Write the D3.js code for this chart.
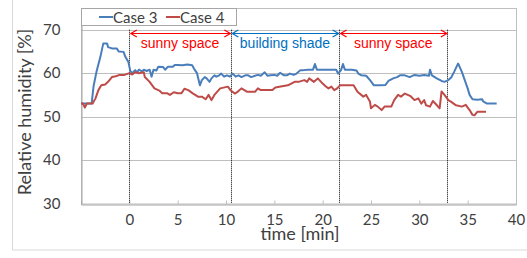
<!DOCTYPE html>
<html lang="en">
<head>
    <meta charset="UTF-8">
    <title>Relative humidity</title>
    <style>
        body { margin: 0; background: #fff; }
        svg { display: block; }
        .tick-label { font-family: Lato, "Open Sans", sans-serif; font-size: 15px; fill: #404040; }
        .axis-title { font-family: Lato, "Open Sans", sans-serif; font-size: 18px; fill: #404040; }
        .zone-label { font-family: "Liberation Sans", Arial, sans-serif; font-size: 14px; }
    </style>
</head>
<body>
    <script src="https://d3js.org/d3.v7.min.js"></script>
    <div id="chart"></div>
    <script>
    // data (time in min, RH in %)
    var timeCase3 = [-5, -3.9, -3.7, -3.4, -3.0, -2.7, -2.3, -2.2, -1.8, -1.3, -1.1, -0.6, -0.4, -0.1,
        0.1, 0.3, 0.6, 0.8, 1.0, 1.3, 1.5, 1.8, 2.1, 2.3, 2.5, 2.8, 3.0, 3.5, 3.7, 4.0, 4.5, 4.7, 5.0, 5.5,
        6.0, 6.5, 6.7, 7.0, 7.3, 7.5, 7.8, 8.0, 8.3, 8.5, 8.8, 9.0, 9.3, 9.5, 9.8, 10.1, 10.4, 10.7,
        11.0, 11.3, 11.6, 12.0, 12.3, 12.6, 13.0, 13.3, 13.6, 14.0, 14.3, 14.6, 15.0, 15.3, 15.6, 16.0,
        16.3, 16.6, 17.0, 17.3, 17.7, 18.0, 18.5, 19.0, 19.2, 19.4, 20.0, 20.5, 21.0, 21.4, 21.6, 21.9,
        22.1, 22.3, 23.0, 23.5, 23.7, 24.0, 24.5, 24.9, 25.3, 25.5, 26.0, 26.5, 26.8, 27.3, 27.7, 28.0,
        28.5, 29.0, 29.5, 30.0, 30.5, 31.0, 31.1, 31.3, 31.8, 32.3, 32.6, 33.0, 33.3, 33.6, 34.0, 34.1,
        34.4, 34.7, 35.0, 35.2, 35.5, 36.0, 36.5, 36.6, 37.0, 37.5, 38.0];
    var rhCase3 = [53, 53, 57, 60.3, 63.7, 66.8, 66.8, 66.0, 65.7, 65.7, 65.0, 64.9, 63.7, 62.6,
        60.5, 60.0, 60.7, 60.2, 60.8, 60.4, 60.8, 60.5, 60.8, 59.2, 60.8, 60.6, 61.5, 61.4, 60.8, 61.5, 61.5, 61.9, 61.9, 61.8,
        62.0, 61.8, 61.0, 60.0, 57.2, 58.4, 59.1, 58.8, 58.0, 58.8, 59.5, 59.2, 59.5, 59.9, 59.2, 59.5, 59.2, 59.9,
        59.2, 59.5, 59.1, 59.5, 59.5, 59.1, 59.4, 59.6, 59.4, 60.2, 59.4, 59.5, 59.6, 59.4, 60.1, 59.5,
        59.5, 59.9, 59.6, 59.9, 60.7, 60.7, 60.8, 60.8, 62.1, 60.8, 60.8, 60.8, 60.8, 60.8, 59.9, 60.7,
        62.1, 60.8, 60.8, 60.6, 59.9, 59.5, 59.4, 58.4, 57.2, 57.2, 57.2, 57.3, 58.2, 58.8, 59.1, 59.5,
        59.5, 59.1, 59.6, 59.4, 59.6, 59.4, 60.8, 59.5, 58.8, 58.2, 58.0, 58.4, 59.0, 60.3, 62.2, 61.8,
        60.3, 58.4, 56.5, 55.0, 54.0, 53.9, 54.0, 53.5, 53.0, 53.0, 53.0];

    var timeCase4 = [-5, -4.8, -4.6, -4.4, -3.8, -3.5, -3.2, -2.9, -2.5, -2.2, -1.8, -1.4, -1.0, -0.5,
        0.0, 0.3, 0.6, 1.0, 1.5, 1.6, 2.1, 2.6, 3.1, 3.4, 3.9, 4.2, 4.6, 5.0, 5.4, 5.7, 6.1, 6.6, 7.1,
        7.5, 7.9, 8.2, 8.5, 8.8, 9.4, 10.2, 10.5, 10.9, 11.2, 11.6, 11.9, 12.2, 13.0, 13.3, 13.6, 14.0,
        14.8, 15.1, 15.8, 16.4, 17.1, 17.5, 18.1, 18.4, 18.6, 19.1, 19.5, 20.0, 20.3, 20.6, 20.9, 21.2,
        21.5, 21.8, 22.5, 23.2, 23.6, 24.2, 24.5, 24.9, 25.0, 25.4, 25.7, 26.1, 26.4, 27.1, 27.4, 27.8,
        28.1, 28.5, 28.8, 29.1, 29.5, 29.9, 30.2, 30.5, 30.7, 31.1, 31.4, 31.7, 32.1, 32.3, 32.6, 33.0,
        33.3, 33.8, 34.4, 34.8, 35.2, 35.5, 35.7, 36.0, 36.9];
    var rhCase4 = [53, 53, 52.1, 53, 53, 54.2, 56.1, 57.2, 57.4, 58.0, 59.1, 59.3, 59.6, 59.6,
        60.0, 59.7, 60.2, 60.0, 60.2, 59.1, 58.0, 56.5, 56.0, 55.4, 55.4, 55.0, 55.6, 55.4, 55.4, 56.4, 56.1, 55.3, 54.6,
        54.6, 54.0, 55.0, 53.8, 55.0, 56.5, 56.9, 56.0, 55.3, 55.7, 56.5, 56.1, 55.7, 55.7, 56.5, 56.1, 56.1,
        56.1, 56.7, 57.0, 57.2, 58.0, 58.0, 58.4, 58.0, 58.8, 58.0, 58.8, 57.6, 57.0, 56.5, 56.9, 56.1,
        56.5, 57.2, 57.2, 57.2, 55.7, 54.6, 55.0, 53.4, 51.9, 52.7, 52.3, 51.5, 52.3, 52.3, 53.8, 55.0,
        54.6, 55.3, 55.0, 54.7, 53.8, 54.2, 53.0, 53.8, 52.6, 52.3, 53.6, 52.9, 51.9, 55.8, 55.0, 53.8,
        53.4, 52.6, 52.3, 52.7, 51.5, 50.4, 50.3, 51.1, 51.1];

    var seriesNames = ["Case 3", "Case 4"];
    var xTicks = [0, 5, 10, 15, 20, 25, 30, 35, 40];
    var yTicks = [30, 40, 50, 60, 70];
    var boundaries = [0, 10.5, 21.7, 32.9];
    var zoneLabels = ["sunny space", "building shade", "sunny space"];

    var width = 527,
        height = 258,
        plotLeft = 81,
        plotRight = 516,
        plotTop = 8,
        plotBottom = 203.5;

    var blue = "#4a7ebb",
        red = "#be4b48",
        zoneColors = ["#ff0000", "#0070c0", "#ff0000"];

    var x = d3.scaleLinear().domain([-5, 40]).range([plotLeft, plotRight]);
    var y = d3.scaleLinear().domain([30, 75]).range([plotBottom, plotTop]);

    var svg = d3.select("#chart")
        .append("svg")
        .attr("width", width)
        .attr("height", height);

    // outer chart frame
    svg.append("rect")
        .attr("x", 12.5).attr("y", -2)
        .attr("width", 530).attr("height", 252)
        .attr("fill", "#fff")
        .attr("stroke", "#d9d9d9");

    // gridlines
    svg.append("g")
        .selectAll("line")
        .data(yTicks.slice(1))
        .enter().append("line")
        .attr("x1", plotLeft).attr("x2", plotRight)
        .attr("y1", function(d) { return Math.round(y(d)) + 0.5; })
        .attr("y2", function(d) { return Math.round(y(d)) + 0.5; })
        .attr("stroke", "#bfbfbf");

    // plot area frame
    svg.append("rect")
        .attr("x", plotLeft + 0.5).attr("y", plotTop + 0.5)
        .attr("width", plotRight - plotLeft).attr("height", plotBottom - plotTop)
        .attr("fill", "none")
        .attr("stroke", "#bfbfbf");

    // axes
    var xAxis = d3.axisBottom(x).tickValues(xTicks).tickSize(-4).tickPadding(10);
    var gx = svg.append("g")
        .attr("transform", "translate(0," + (Math.round(plotBottom) + 0.5) + ")")
        .call(xAxis);
    gx.attr("font-family", null).attr("font-size", null);
    gx.select(".domain").attr("stroke", "#a6a6a6");
    gx.selectAll(".tick line").attr("stroke", "#bfbfbf");
    gx.selectAll(".tick text").attr("class", "tick-label");

    var yAxis = d3.axisLeft(y).tickValues(yTicks).tickSize(0).tickPadding(21);
    var gy = svg.append("g")
        .attr("transform", "translate(" + (plotLeft + 0.5) + ",0)")
        .call(yAxis);
    gy.attr("font-family", null).attr("font-size", null);
    gy.select(".domain").attr("stroke", "#a6a6a6");
    gy.selectAll(".tick text").attr("class", "tick-label");

    // axis titles
    svg.append("text")
        .attr("class", "axis-title")
        .attr("text-anchor", "middle")
        .attr("transform", "translate(31,112) rotate(-90)")
        .text("Relative humidity [%]");

    svg.append("text")
        .attr("class", "axis-title")
        .attr("text-anchor", "middle")
        .attr("x", 300).attr("y", 240)
        .text("time [min]");

    // boundary lines
    svg.append("g")
        .selectAll("line")
        .data(boundaries)
        .enter().append("line")
        .attr("x1", function(d) { return Math.round(x(d)) + 0.5; })
        .attr("x2", function(d) { return Math.round(x(d)) + 0.5; })
        .attr("y1", y(70)).attr("y2", plotBottom)
        .attr("stroke", "#000")
        .attr("stroke-dasharray", "1,1");

    // zone arrows and labels
    var arrowY = 33.5;
    var zones = svg.append("g")
        .selectAll("g")
        .data(zoneLabels)
        .enter().append("g");

    zones.append("path")
        .attr("fill", "none")
        .attr("stroke", function(d, i) { return zoneColors[i]; })
        .attr("stroke-width", 1.2)
        .attr("d", function(d, i) {
            var x0 = x(boundaries[i]) + 1.5, x1 = x(boundaries[i + 1]) - 0.5;
            return "M" + x0 + "," + arrowY + "H" + x1 +
                "M" + (x0 + 6) + "," + (arrowY - 3.5) + "L" + x0 + "," + arrowY + "L" + (x0 + 6) + "," + (arrowY + 3.5) +
                "M" + (x1 - 6) + "," + (arrowY - 3.5) + "L" + x1 + "," + arrowY + "L" + (x1 - 6) + "," + (arrowY + 3.5);
        });

    zones.append("text")
        .attr("class", "zone-label")
        .attr("text-anchor", "middle")
        .attr("x", function(d, i) { return (x(boundaries[i]) + x(boundaries[i + 1])) / 2; })
        .attr("y", 48)
        .attr("fill", function(d, i) { return zoneColors[i]; })
        .text(function(d) { return d; });

    // series lines
    var line = d3.line()
        .x(function(d) { return x(d[0]); })
        .y(function(d) { return y(d[1]); });

    var series = [
        { name: seriesNames[0], color: blue, points: d3.zip(timeCase3, rhCase3) },
        { name: seriesNames[1], color: red, points: d3.zip(timeCase4, rhCase4) }
    ];

    svg.append("g")
        .selectAll("path")
        .data(series)
        .enter().append("path")
        .attr("fill", "none")
        .attr("stroke", function(d) { return d.color; })
        .attr("stroke-width", 2)
        .attr("stroke-linejoin", "round")
        .attr("d", function(d) { return line(d.points); });

    // legend
    var legend = svg.append("g");
    legend.append("rect")
        .attr("x", 81.5).attr("y", 8.5)
        .attr("width", 155).attr("height", 17)
        .attr("fill", "#fff")
        .attr("stroke", "#a6a6a6");

    var legendItems = legend.selectAll("g")
        .data(series)
        .enter().append("g")
        .attr("transform", function(d, i) { return "translate(" + (i === 0 ? 99 : 166) + ",0)"; });

    legendItems.append("line")
        .attr("x1", 0).attr("x2", 14)
        .attr("y1", 17).attr("y2", 17)
        .attr("stroke", function(d) { return d.color; })
        .attr("stroke-width", 2);

    legendItems.append("text")
        .attr("class", "tick-label")
        .attr("x", 14).attr("y", 22.5)
        .text(function(d) { return d.name; });
    </script>
</body>
</html>
